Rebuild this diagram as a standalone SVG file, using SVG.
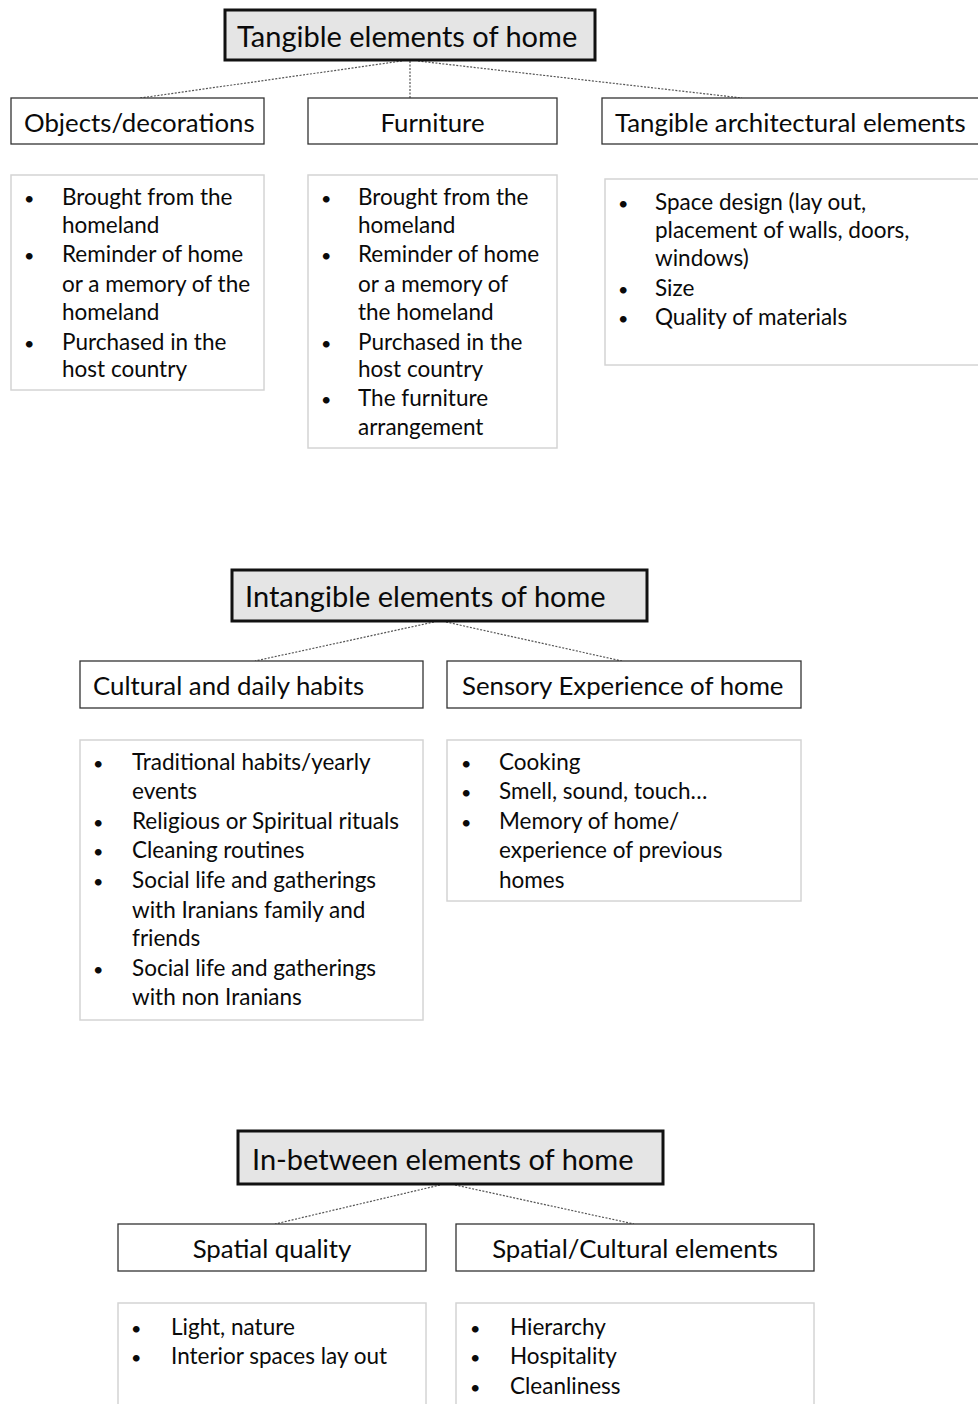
<svg xmlns="http://www.w3.org/2000/svg" width="978" height="1404" viewBox="0 0 978 1404">
  <style>
    text { font-family: Lato, "Open Sans", "Liberation Sans", sans-serif; fill: #0a0a0a; }
    .head rect { fill: #e5e5e5; stroke: #111; stroke-width: 3; }
    .head text { font-size: 29px; }
    .sub rect { fill: #fff; stroke: #333; stroke-width: 1.3; }
    .sub text { font-size: 25.8px; }
    .list rect { fill: #fff; stroke: #d4d4d4; stroke-width: 1.5; }
    .list text { font-size: 22.5px; }
    .list text.b { font-size: 18px; }
    .conn line { stroke: #555; stroke-width: 1.2; stroke-dasharray: 2 1.5; }
  </style>

  <rect width="978" height="1404" fill="#fff"/>

  <!-- connectors -->
  <g class="conn">
    <line x1="402" y1="61" x2="140" y2="98"/>
    <line x1="410" y1="61" x2="410" y2="98"/>
    <line x1="418" y1="61" x2="742" y2="98"/>
    <line x1="434" y1="622" x2="255" y2="661"/>
    <line x1="446" y1="622" x2="622" y2="661"/>
    <line x1="440" y1="1185" x2="275" y2="1224"/>
    <line x1="455" y1="1185" x2="634" y2="1224"/>
  </g>

  <!-- tangible -->
  <g id="tangible" class="head">
    <rect x="225" y="10" width="370" height="50"/>
    <text x="237" y="47">Tangible elements of home</text>
  </g>
  <g id="objects" class="sub">
    <rect x="11" y="98" width="253" height="46"/>
    <text x="24" y="132">Objects/decorations</text>
  </g>
  <g id="furniture" class="sub">
    <rect x="308" y="98" width="249" height="46"/>
    <text x="432.5" y="132" text-anchor="middle">Furniture</text>
  </g>
  <g id="architectural" class="sub">
    <rect x="602" y="98" width="390" height="46"/>
    <text x="615" y="132">Tangible architectural elements</text>
  </g>
  <g id="objects-list" class="list">
    <rect x="11" y="175" width="253" height="215"/>
    <text class="b" x="24" y="205">•</text><text x="62" y="205">Brought from the</text>
    <text x="62" y="233">homeland</text>
    <text class="b" x="24" y="262">•</text><text x="62" y="262">Reminder of home</text>
    <text x="62" y="292">or a memory of the</text>
    <text x="62" y="320">homeland</text>
    <text class="b" x="24" y="350">•</text><text x="62" y="350">Purchased in the</text>
    <text x="62" y="377">host country</text>
  </g>
  <g id="furniture-list" class="list">
    <rect x="308" y="175" width="249" height="273"/>
    <text class="b" x="321" y="205">•</text><text x="358" y="205">Brought from the</text>
    <text x="358" y="233">homeland</text>
    <text class="b" x="321" y="262">•</text><text x="358" y="262">Reminder of home</text>
    <text x="358" y="292">or a memory of</text>
    <text x="358" y="320">the homeland</text>
    <text class="b" x="321" y="350">•</text><text x="358" y="350">Purchased in the</text>
    <text x="358" y="377">host country</text>
    <text class="b" x="321" y="406">•</text><text x="358" y="406">The furniture</text>
    <text x="358" y="435">arrangement</text>
  </g>
  <g id="architectural-list" class="list">
    <rect x="605" y="179" width="390" height="186"/>
    <text class="b" x="618" y="210">•</text><text x="655" y="210">Space design (lay out,</text>
    <text x="655" y="238">placement of walls, doors,</text>
    <text x="655" y="266">windows)</text>
    <text class="b" x="618" y="296">•</text><text x="655" y="296">Size</text>
    <text class="b" x="618" y="325">•</text><text x="655" y="325">Quality of materials</text>
  </g>

  <!-- intangible -->
  <g id="intangible" class="head">
    <rect x="232" y="570" width="415" height="51"/>
    <text x="245" y="607">Intangible elements of home</text>
  </g>
  <g id="habits" class="sub">
    <rect x="80" y="661" width="343" height="47"/>
    <text x="93" y="695">Cultural and daily habits</text>
  </g>
  <g id="sensory" class="sub">
    <rect x="447" y="661" width="354" height="47"/>
    <text x="462" y="695">Sensory Experience of home</text>
  </g>
  <g id="habits-list" class="list">
    <rect x="80" y="740" width="343" height="280"/>
    <text class="b" x="93" y="770">•</text><text x="132" y="770">Traditional habits/yearly</text>
    <text x="132" y="799">events</text>
    <text class="b" x="93" y="829">•</text><text x="132" y="829">Religious or Spiritual rituals</text>
    <text class="b" x="93" y="858">•</text><text x="132" y="858">Cleaning routines</text>
    <text class="b" x="93" y="888">•</text><text x="132" y="888">Social life and gatherings</text>
    <text x="132" y="918">with Iranians family and</text>
    <text x="132" y="946">friends</text>
    <text class="b" x="93" y="976">•</text><text x="132" y="976">Social life and gatherings</text>
    <text x="132" y="1005">with non Iranians</text>
  </g>
  <g id="sensory-list" class="list">
    <rect x="447" y="740" width="354" height="161"/>
    <text class="b" x="461" y="770">•</text><text x="499" y="770">Cooking</text>
    <text class="b" x="461" y="799">•</text><text x="499" y="799">Smell, sound, touch…</text>
    <text class="b" x="461" y="829">•</text><text x="499" y="829">Memory of home/</text>
    <text x="499" y="858">experience of previous</text>
    <text x="499" y="888">homes</text>
  </g>

  <!-- in-between -->
  <g id="in-between" class="head">
    <rect x="238" y="1131" width="425" height="53"/>
    <text x="252" y="1170">In-between elements of home</text>
  </g>
  <g id="spatial-quality" class="sub">
    <rect x="118" y="1224" width="308" height="47"/>
    <text x="272" y="1258" text-anchor="middle">Spatial quality</text>
  </g>
  <g id="spatial-cultural" class="sub">
    <rect x="456" y="1224" width="358" height="47"/>
    <text x="635" y="1258" text-anchor="middle">Spatial/Cultural elements</text>
  </g>
  <g id="spatial-quality-list" class="list">
    <rect x="118" y="1303" width="308" height="120"/>
    <text class="b" x="131" y="1335">•</text><text x="171" y="1335">Light, nature</text>
    <text class="b" x="131" y="1364">•</text><text x="171" y="1364">Interior spaces lay out</text>
  </g>
  <g id="spatial-cultural-list" class="list">
    <rect x="456" y="1303" width="358" height="120"/>
    <text class="b" x="470" y="1335">•</text><text x="510" y="1335">Hierarchy</text>
    <text class="b" x="470" y="1364">•</text><text x="510" y="1364">Hospitality</text>
    <text class="b" x="470" y="1394">•</text><text x="510" y="1394">Cleanliness</text>
  </g>
</svg>
